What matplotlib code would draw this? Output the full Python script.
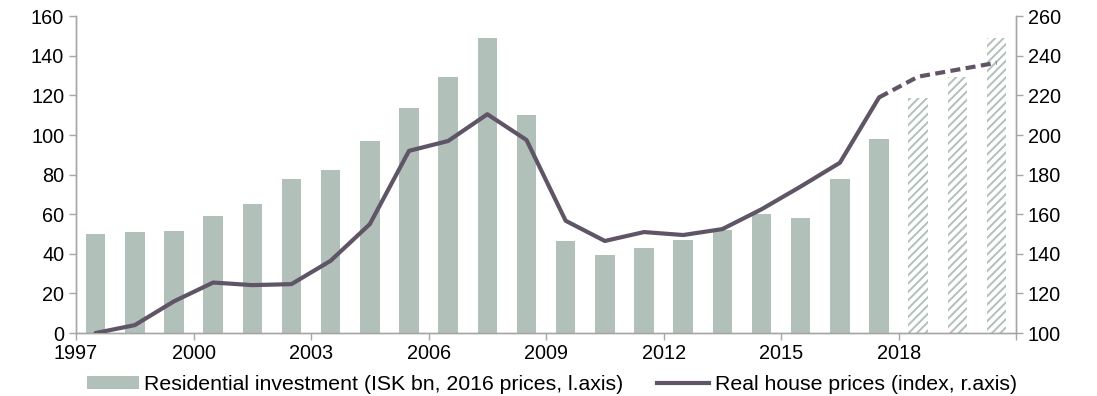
import matplotlib
matplotlib.use("Agg")
import matplotlib.pyplot as plt
from matplotlib.patches import Patch
from matplotlib.lines import Line2D
import numpy as np

plt.rcParams['font.family'] = ['Liberation Sans', 'DejaVu Sans']
plt.rcParams['hatch.linewidth'] = 1.4

years = list(range(1997, 2021))
investment = [50, 51, 51.5, 59, 65, 78, 82.5, 97, 113.5, 129.5, 149, 110,
              46.5, 39.5, 43, 47, 52, 60, 58, 78, 98, 118.5, 129.5, 149]
house_prices = [100, 104, 116, 125.5, 124.2, 124.7, 136.5, 155, 192, 197, 210.5, 197.5,
                156.7, 146.5, 151, 149.5, 152.5, 162.5, 174, 186, 219, 229.5, 233, 236.5]
first_forecast_year = 2018
tick_years = [1997, 2000, 2003, 2006, 2009, 2012, 2015, 2018]

bar_color = '#b1c0b9'
line_color = '#5f5566'
spine_color = '#a6a6a6'

fig = plt.figure(figsize=(10.97, 3.96), dpi=100)
ax = fig.add_axes([0.0693, 0.159, 0.857, 0.8])
ax2 = ax.twinx()

x = np.arange(len(years)) + 0.5
split = years.index(first_forecast_year)

ax.bar(x[:split], investment[:split], width=0.5, color=bar_color, zorder=2)
ax.bar(x[split:], investment[split:], width=0.5, facecolor='white',
       edgecolor=bar_color, hatch='////', linewidth=0, zorder=2)

ax2.plot(x[:split], house_prices[:split], color=line_color, lw=3, solid_capstyle='round', zorder=3)
ax2.plot(x[split - 1:], house_prices[split - 1:], color=line_color, lw=3,
         linestyle=(0, (2.4, 1.3)), zorder=3)

ax.set_xlim(0, len(years))
ax.set_ylim(0, 160)
ax.set_yticks(range(0, 161, 20))
ax2.set_ylim(100, 260)
ax2.set_yticks(range(100, 261, 20))

tick_pos = [years.index(y) for y in tick_years] + [len(years)]
ax.set_xticks(tick_pos)
ax.set_xticklabels([str(y) for y in tick_years] + [''])

for a in (ax, ax2):
    a.set_zorder(1)
    a.patch.set_visible(False)
    a.spines['top'].set_visible(False)
    for s in ('left', 'right', 'bottom'):
        a.spines[s].set_color(spine_color)
        a.spines[s].set_linewidth(1.0)
    a.tick_params(axis='both', colors=spine_color, labelcolor='black',
                  labelsize=14.3, length=5, width=1.0)
ax2.set_zorder(2)
ax.tick_params(axis='x', pad=3)

handles = [Patch(facecolor=bar_color, edgecolor='none'),
           Line2D([0], [0], color=line_color, lw=3)]
labels = ['Residential investment (ISK bn, 2016 prices, l.axis)',
          'Real house prices (index, r.axis)']
fig.legend(handles, labels, loc='center', bbox_to_anchor=(0.503, 0.028), ncol=2,
           frameon=False, fontsize=15.3, handlelength=2.45, handleheight=0.55,
           handletextpad=0.25, columnspacing=1.6, borderaxespad=0, borderpad=0)

fig.savefig('out.png', dpi=100)
